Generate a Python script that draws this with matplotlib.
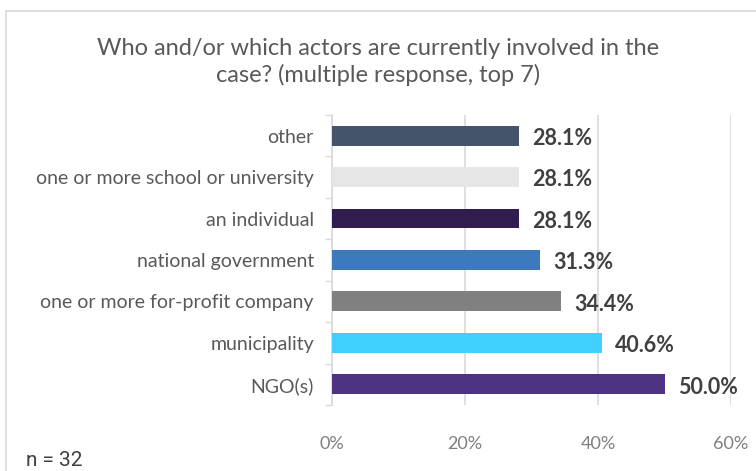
import matplotlib.pyplot as plt
from matplotlib.patches import Rectangle
from matplotlib.ticker import FixedLocator

# ============================================================================
# Data
# ============================================================================

categories = [
    "other",
    "one or more school or university",
    "an individual",
    "national government",
    "one or more for-profit company",
    "municipality",
    "NGO(s)",
]
shares = [28.1, 28.1, 28.1, 31.3, 34.4, 40.6, 50.0]
bar_colors = ["#44546a", "#e7e6e6", "#2f1d50", "#3d7abd", "#808080", "#40cfff", "#4e3385"]
x_ticks = [0, 20, 40, 60]
x_tick_labels = ["0%", "20%", "40%", "60%"]
title = "Who and/or which actors are currently involved in the\ncase? (multiple response, top 7)"
note = "n = 32"

# ============================================================================
# Plot
# ============================================================================

plt.rcParams["font.family"] = ["Lato", "DejaVu Sans"]

fig = plt.figure(figsize=(7.56, 4.71), dpi=100)
fig.patches.append(Rectangle((6 / 756, -0.1), 1.2, 1 - 11 / 471 + 0.1,
                             transform=fig.transFigure, fill=False,
                             edgecolor="#d9d9d9", linewidth=1.2))

ax = fig.add_axes([0.439, 0.140, 0.528, 0.616])
y = list(range(len(categories)))
ax.barh(y, shares, height=0.48, color=bar_colors, zorder=3)

# value labels sit a touch below the bar centre, as in the original
for yi, v in zip(y, shares):
    ax.text(v + 2.0, yi + 0.07, f"{v:.1f}%", va="center", ha="left",
            fontsize=15.5, fontweight="bold", color="#404040")

ax.set_xlim(0, 60)
ax.set_ylim(len(categories) - 0.5, -0.5)
ax.set_yticks(y)
ax.set_yticklabels(categories, fontsize=14, color="#595959")
ax.yaxis.set_minor_locator(FixedLocator([i - 0.5 for i in range(len(categories) + 1)]))
ax.tick_params(axis="y", which="major", length=0, pad=13)
ax.tick_params(axis="y", which="minor", length=5, color="#d9d9d9", width=1)

ax.set_xticks(x_ticks)
ax.set_xticklabels(x_tick_labels, fontsize=13, color="#7f7f7f")
ax.tick_params(axis="x", length=0, pad=22)
ax.grid(axis="x", color="#d9d9d9", linewidth=1.2, zorder=0)

for side in ["top", "right", "bottom"]:
    ax.spines[side].set_visible(False)
ax.spines["left"].set_color("#d9d9d9")
ax.spines["left"].set_linewidth(1.2)

fig.text(0.5, 1 - 62 / 471, title, ha="center", va="center",
         fontsize=17, color="#595959", linespacing=1.3)
fig.text(26 / 756, 1 - 460 / 471, note, ha="left", va="center",
         fontsize=15, color="#404040", family=["Roboto", "DejaVu Sans"])

fig.savefig("out.png", dpi=100)
